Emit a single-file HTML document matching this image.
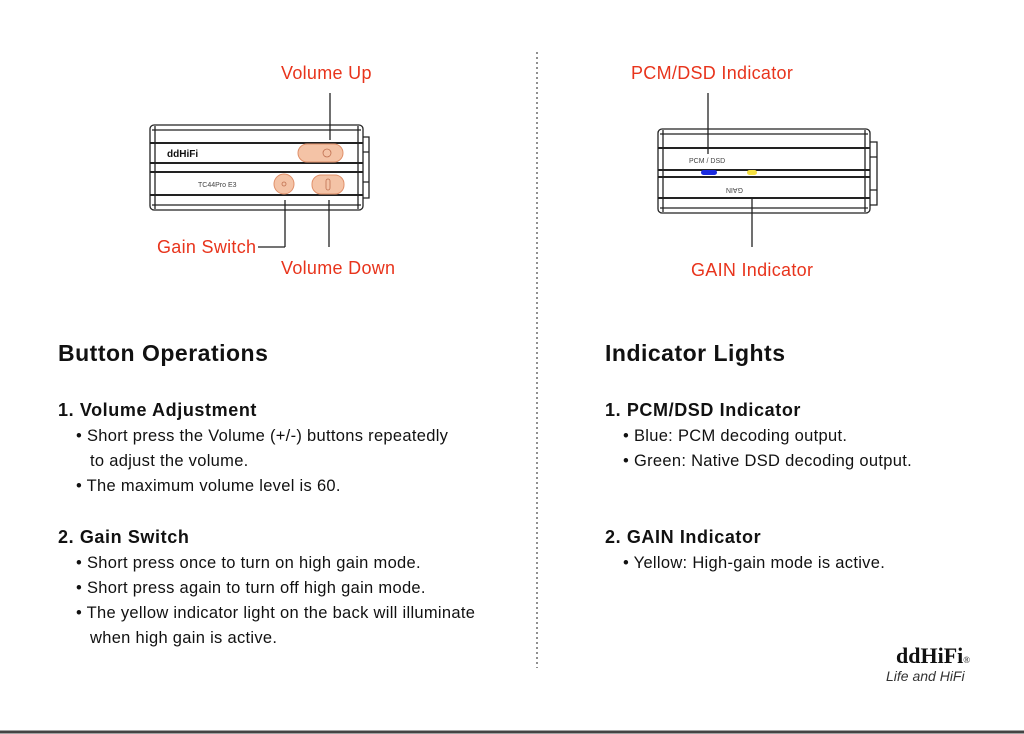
<!DOCTYPE html>
<html><head><meta charset="utf-8"><style>
body{margin:0;width:1024px;height:734px;background:#fff;position:relative;overflow:hidden;font-family:"Liberation Sans",sans-serif;color:#111}
.t{position:absolute;white-space:nowrap}
.r{color:#e8341c;font-size:18px;letter-spacing:0.3px}
.h{font-weight:bold;font-size:23px;letter-spacing:0.5px}
.s{font-weight:bold;font-size:18px;letter-spacing:0.6px}
.b{font-size:16.5px;letter-spacing:0.3px}
</style></head><body>
<svg width="1024" height="734" style="position:absolute;left:0;top:0">
<g fill="none" stroke="#222" stroke-width="1.3">
<line x1="537" y1="52" x2="537" y2="668" stroke-dasharray="2,3" stroke-width="1"/>
<rect x="150" y="125" width="213" height="85" rx="4"/>
<line x1="152" y1="130" x2="361" y2="130"/>
<line x1="150" y1="143" x2="363" y2="143" stroke-width="2"/>
<line x1="150" y1="163" x2="363" y2="163" stroke-width="2"/>
<line x1="150" y1="172" x2="363" y2="172" stroke-width="2"/>
<line x1="150" y1="195" x2="363" y2="195" stroke-width="2"/>
<line x1="152" y1="205" x2="361" y2="205"/>
<line x1="155" y1="126" x2="155" y2="209"/>
<line x1="358" y1="126" x2="358" y2="209"/>
<path d="M363 137 H369 V198 H363 M363 152 H369 M363 182 H369"/>
<line x1="330" y1="93" x2="330" y2="140"/>
<line x1="285" y1="200" x2="285" y2="247"/>
<line x1="258" y1="247" x2="285" y2="247"/>
<line x1="329" y1="200" x2="329" y2="247"/>
<rect x="658" y="129" width="212" height="84" rx="4"/>
<line x1="660" y1="134" x2="868" y2="134"/>
<line x1="658" y1="148" x2="870" y2="148" stroke-width="2"/>
<line x1="658" y1="170" x2="870" y2="170" stroke-width="2"/>
<line x1="658" y1="177" x2="870" y2="177" stroke-width="2"/>
<line x1="658" y1="198" x2="870" y2="198" stroke-width="2"/>
<line x1="660" y1="208" x2="868" y2="208"/>
<line x1="663" y1="130" x2="663" y2="212"/>
<line x1="865" y1="130" x2="865" y2="212"/>
<path d="M870 142 H877 V205 H870 M870 157 H877 M870 190 H877"/>
<line x1="708" y1="93" x2="708" y2="154"/>
<line x1="752" y1="197" x2="752" y2="247"/>
</g>
<g fill="#f4c3a6" stroke="#e0906a" stroke-width="1">
<rect x="298" y="144" width="45" height="18" rx="9"/>
<circle cx="284" cy="184" r="10"/>
<rect x="312" y="175" width="32" height="19" rx="9"/>
</g>
<g fill="none" stroke="#c07050" stroke-width="0.8"><circle cx="327" cy="153" r="4"/><circle cx="284" cy="184" r="2"/><rect x="326" y="179" width="4" height="11" rx="2"/></g>
<rect x="701" y="170" width="16" height="5" rx="2.5" fill="#1a2be0"/>
<rect x="747" y="170" width="10" height="5" rx="2.5" fill="#f5e040"/>
<text x="167" y="157" font-family="Liberation Sans" font-weight="bold" font-size="10" fill="#111">ddHiFi</text>
<text x="198" y="187" font-family="Liberation Sans" font-size="7" fill="#444">TC44Pro E3</text>
<text x="689" y="163" font-family="Liberation Sans" font-size="7" fill="#444">PCM / DSD</text>
<text x="765" y="184" font-family="Liberation Sans" font-size="7" fill="#444" transform="rotate(180 754 186)">GAIN</text>
<line x1="0" y1="732" x2="1024" y2="732" stroke="#444" stroke-width="3"/>
</svg>
<div class="t r" style="left:281px;top:63px">Volume Up</div>
<div class="t r" style="left:157px;top:237px">Gain Switch</div>
<div class="t r" style="left:281px;top:258px">Volume Down</div>
<div class="t r" style="left:631px;top:63px">PCM/DSD Indicator</div>
<div class="t r" style="left:691px;top:260px">GAIN Indicator</div>
<div class="t h" style="left:58px;top:340px">Button Operations</div>
<div class="t s" style="left:58px;top:400px">1. Volume Adjustment</div>
<div class="t b" style="left:76px;top:427px">• Short press the Volume (+/-) buttons repeatedly</div>
<div class="t b" style="left:90px;top:452px">to adjust the volume.</div>
<div class="t b" style="left:76px;top:477px">• The maximum volume level is 60.</div>
<div class="t s" style="left:58px;top:527px">2. Gain Switch</div>
<div class="t b" style="left:76px;top:554px">• Short press once to turn on high gain mode.</div>
<div class="t b" style="left:76px;top:579px">• Short press again to turn off high gain mode.</div>
<div class="t b" style="left:76px;top:604px">• The yellow indicator light on the back will illuminate</div>
<div class="t b" style="left:90px;top:629px">when high gain is active.</div>
<div class="t h" style="left:605px;top:340px">Indicator Lights</div>
<div class="t s" style="left:605px;top:400px">1. PCM/DSD Indicator</div>
<div class="t b" style="left:623px;top:427px">• Blue: PCM decoding output.</div>
<div class="t b" style="left:623px;top:452px">• Green: Native DSD decoding output.</div>
<div class="t s" style="left:605px;top:527px">2. GAIN Indicator</div>
<div class="t b" style="left:623px;top:554px">• Yellow: High-gain mode is active.</div>
<div class="t" style="left:896px;top:643px;font-family:'Liberation Serif',serif;font-weight:bold;font-size:22px">ddHiFi<span style="font-size:9px;font-weight:normal">®</span></div>
<div class="t" style="left:886px;top:668px;font-style:italic;font-size:14px;color:#333">Life and HiFi</div>
</body></html>
